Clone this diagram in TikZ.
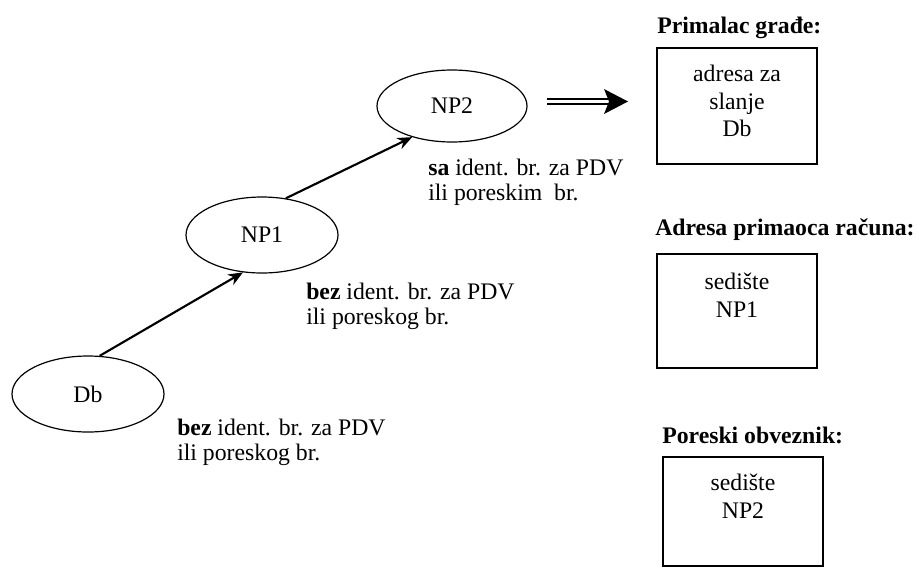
\documentclass[tikz,border=0pt]{standalone}
\usepackage{fontspec}
\setmainfont{Liberation Serif}
\usetikzlibrary{shapes.geometric,arrows.meta,calc}
\begin{document}
\begin{tikzpicture}[x=0.75pt,y=-0.75pt,
  party/.style={draw,ellipse,line width=0.9pt,inner sep=0pt,minimum width=114pt,minimum height=57pt,font=\fontsize{17.8pt}{20pt}\selectfont},
  flow/.style={line width=1.6pt,-{Stealth[length=11pt,width=9pt]}},
  note/.style={align=left,anchor=west,inner sep=0pt,font=\fontsize{17.8pt}{18.5pt}\selectfont},
  title/.style={anchor=west,inner sep=0pt,font=\fontsize{17.8pt}{20pt}\selectfont\bfseries},
  infobox/.style={draw,line width=1.3pt,minimum width=120pt,inner sep=0pt},
  boxtext/.style={align=center,anchor=north,inner sep=0pt,font=\fontsize{17.8pt}{20.5pt}\selectfont}
]
\useasboundingbox (0,0) rectangle (919,568);

\node[party] (Db) at (88,394) {Db};
\node[party,minimum height=57pt] (NP1) at (262,235) {NP1};
\node[party,minimum height=54pt,minimum width=112.5pt] (NP2) at (452,106) {NP2};

\draw[flow] (Db.73) -- (NP1.243);
\draw[flow] (NP1.57) -- (NP2.218);

\node[note] (l1) at (177,442) {\textbf{bez} ident. br. za PDV\\ili poreskog br.};
\node[note] (l2) at (306,306) {\textbf{bez} ident. br. za PDV\\ili poreskog br.};
\node[note] (l3) at (428,182) {\textbf{sa} ident. br. za PDV\\ili poreskim\ \ br.};

\coordinate (da) at (547,101.5);
\coordinate (db) at (628,101.5);
\draw[double,line width=1.4pt,double distance=2pt,shorten >=12pt] (da) -- (db);
\fill ($(db)+(-24,-12.5)$) -- (db) -- ($(db)+(-24,12.5)$) -- ($(db)+(-19,0)$) -- cycle;

\node[title] (t1) at (657,28) {Primalac građe:};
\node[infobox,minimum height=87pt] (b1) at (737,106) {};
\node[boxtext] (b1t) at ($(b1.north)+(0,18)$) {adresa za\\slanje\\Db};

\node[title] (t2) at (655,230) {Adresa primaoca računa:};
\node[infobox,minimum height=85.5pt] (b2) at (737,311) {};
\node[boxtext] (b2t) at ($(b2.north)+(0,20)$) {sedište\\NP1};

\node[title] (t3) at (662,435) {Poreski obveznik:};
\node[infobox,minimum height=81.75pt] (b3) at (743,511.5) {};
\node[boxtext] (b3t) at ($(b3.north)+(0,18)$) {sedište\\NP2};
\end{tikzpicture}
\end{document}
